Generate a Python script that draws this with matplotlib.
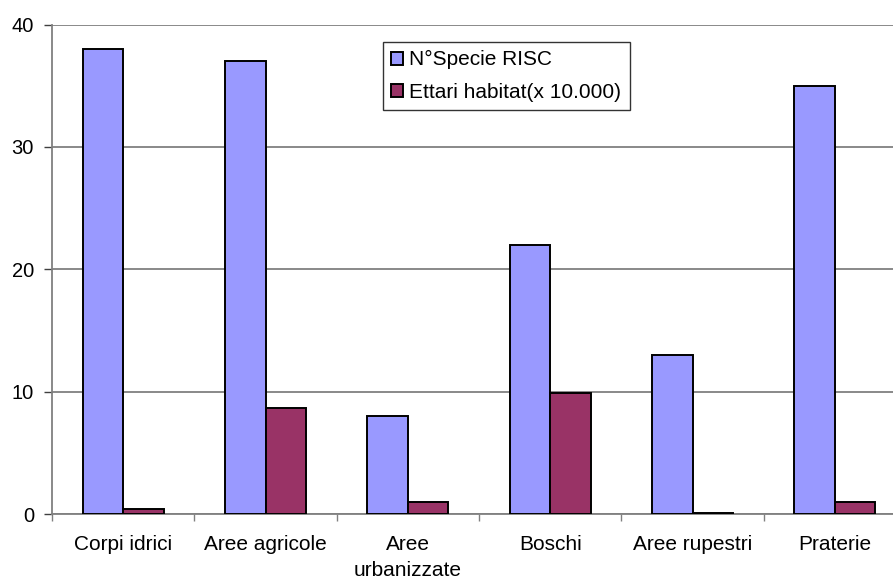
import numpy as np
import matplotlib.pyplot as plt

plt.rcParams['font.family'] = ['Liberation Sans', 'DejaVu Sans']

categorie = ['Corpi idrici', 'Aree agricole', 'Aree\nurbanizzate', 'Boschi',
             'Aree rupestri', 'Praterie']
specie_risc = [38, 37, 8, 22, 13, 35]
ettari_habitat = [0.4, 8.7, 1.0, 9.9, 0.05, 1.0]

fig = plt.figure(figsize=(8.93, 5.81), dpi=100)
ax = fig.add_axes([52 / 893, 67 / 581, 854 / 893, 489.5 / 581])

x = np.arange(len(categorie)) + 0.5
w = 0.285
ax.bar(x - w / 2, specie_risc, w, color='#9999FF', edgecolor='black',
       linewidth=1.4, label='N°Specie RISC', zorder=3)
ax.bar(x + w / 2, ettari_habitat, w, color='#993366', edgecolor='black',
       linewidth=1.4, label='Ettari habitat(x 10.000)', zorder=3)

ax.set_xlim(0, len(categorie))
ax.set_ylim(0, 40)
ax.set_yticks([0, 10, 20, 30, 40])
ax.yaxis.grid(True, color='#808080', linewidth=1.3, zorder=0)

# category separators as major ticks, names centred on minor ticks
ax.set_xticks(np.arange(len(categorie) + 1))
ax.set_xticklabels([])
ax.set_xticks(x, minor=True)
ax.set_xticklabels(categorie, minor=True, fontsize=15, linespacing=1.45)
ax.tick_params(axis='x', which='minor', length=0, pad=15)
ax.tick_params(axis='x', which='major', length=5, color='#808080', width=1)
ax.tick_params(axis='y', length=6, color='#404040', width=1, labelsize=14.5,
               pad=7)

for side in ['top', 'right']:
    ax.spines[side].set_visible(False)
for side in ['left', 'bottom']:
    ax.spines[side].set_color('#808080')
    ax.spines[side].set_linewidth(1.3)

leg = ax.legend(loc='upper left',
                bbox_to_anchor=((383 - 52) / 854, 1 - (42 - 24.5) / 489.5),
                fontsize=15, frameon=True, fancybox=False, edgecolor='black',
                handlelength=0.58, handleheight=0.58, handletextpad=0.28,
                borderpad=0.4, labelspacing=0.65, borderaxespad=0)
leg.get_frame().set_linewidth(1.0)

fig.savefig('out.png', dpi=100)
